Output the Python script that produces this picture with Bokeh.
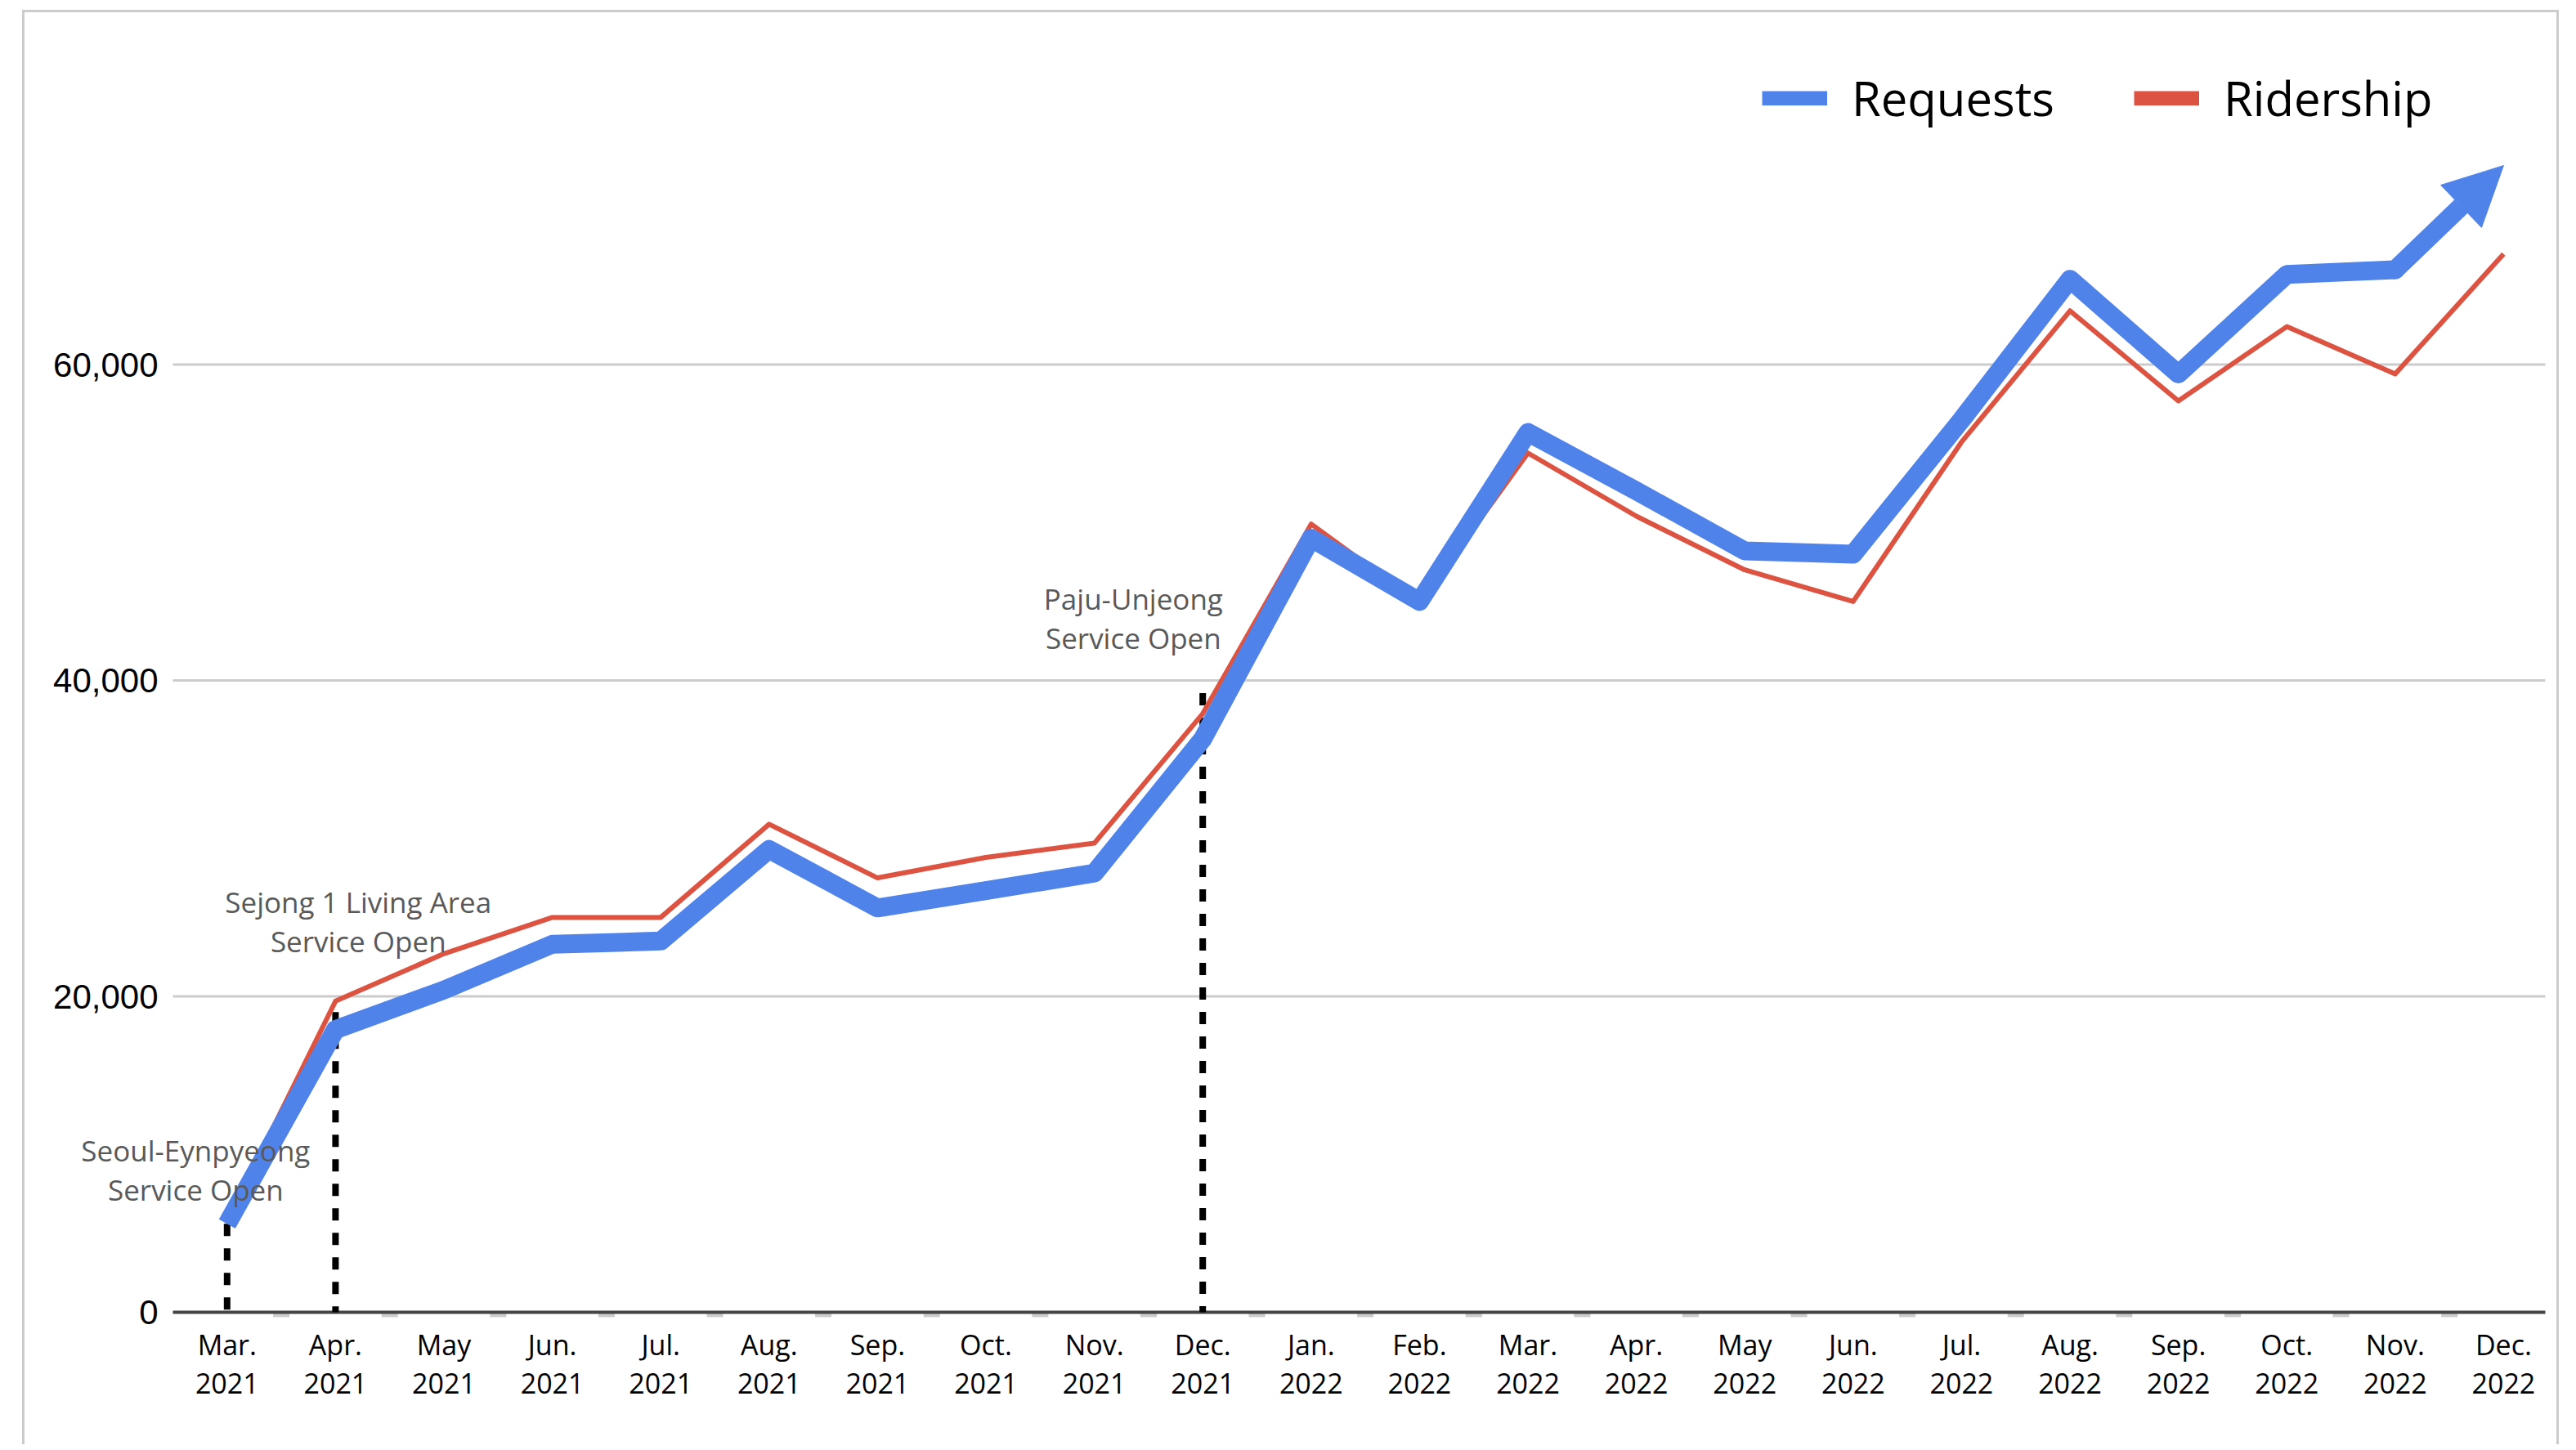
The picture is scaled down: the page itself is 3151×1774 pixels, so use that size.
from bokeh.plotting import figure
from bokeh.models import (Range1d, Legend, LegendItem, Arrow, NormalHead, Label)
from bokeh.core.properties import value
from bokeh.embed import file_html
from bokeh.resources import INLINE

# Monthly axis categories (two-line tick labels)
months = ["Mar.", "Apr.", "May", "Jun.", "Jul.", "Aug.", "Sep.", "Oct.", "Nov.", "Dec.",
          "Jan.", "Feb.", "Mar.", "Apr.", "May", "Jun.", "Jul.", "Aug.", "Sep.", "Oct.",
          "Nov.", "Dec."]
years = ["2021", "2021", "2021", "2021", "2021", "2021", "2021", "2021", "2021", "2021",
         "2022", "2022", "2022", "2022", "2022", "2022", "2022", "2022", "2022", "2022",
         "2022", "2022"]

# Series values
requests = [5600, 17900, 20400, 23300, 23500, 29300, 25600, 26700, 27800, 36300,
            49000, 45000, 55700, 52000, 48200, 48000, 56500, 65400, 59400, 65700,
            66000, 72600]
ridership = [5800, 19700, 22700, 25000, 25000, 30900, 27500, 28800, 29700, 37900,
             49900, 44900, 54400, 50400, 47000, 45000, 55100, 63400, 57700, 62400,
             59400, 67000]

y_ticks = [0, 20000, 40000, 60000]

# Service launch events
event_labels = ["Seoul-Eynpyeong\nService Open",
                "Sejong 1 Living Area\nService Open",
                "Paju-Unjeong\nService Open"]
event_month_index = [0, 1, 9]
event_line_top = [5600, 19000, 39200]
event_label_x = [-0.29, 1.21, 8.36]
event_label_y = [9000, 24730, 43950]

BLUE = "#5083EA"
RED = "#DC5441"
GRID = "#cccccc"

W, H = 3103, 1755
X_START, X_END = -1.865, 21.536
Y_START, Y_END = -8538, 82277
y_per_px = (Y_END - Y_START) / H

x = list(range(len(months)))
axis_lo = x[0] - 0.5          # left end of the value axis / gridlines
axis_hi = x[-1] + 0.385       # right end of the value axis / gridlines

# The frame covers the whole canvas so that labels may sit left of the axis;
# axes, grid and tick labels are drawn as glyphs.
p = figure(width=W, height=H,
           x_range=Range1d(X_START, X_END), y_range=Range1d(Y_START, Y_END),
           output_backend="svg", toolbar_location=None,
           min_border=0, outline_line_color=None,
           background_fill_color="white", border_fill_color="white")
p.styles = {"margin-left": "27px", "margin-top": "12px",
            "border-left": "3px solid #cccccc",
            "border-top": "3px solid #cccccc",
            "border-right": "3px solid #cccccc"}
p.xaxis.visible = False
p.yaxis.visible = False
p.grid.visible = False

# Horizontal gridlines
grid_y = [v for v in y_ticks if v != 0]
p.segment(x0=[axis_lo] * len(grid_y), y0=grid_y, x1=[axis_hi] * len(grid_y), y1=grid_y,
          line_color=GRID, line_width=3)

# Value labels on the left
p.text(x=[axis_lo] * len(y_ticks), y=y_ticks, text=[f"{v:,}" for v in y_ticks],
       x_offset=-18, text_align="right", text_baseline="middle",
       text_font=value("Liberation Sans"), text_font_size="42px", text_color="black")

# Small gray marks between months, just under the baseline
bounds = [i + 0.5 for i in x[:-1]]
p.segment(x0=bounds, y0=[0] * len(bounds), x1=bounds, y1=[-6 * y_per_px] * len(bounds),
          line_color=GRID, line_width=20)

# Baseline
p.segment(x0=[axis_lo], y0=[0], x1=[axis_hi], y1=[0], line_color="#454545", line_width=4)

# Month / year labels
p.text(x=x, y=[0] * len(x), text=months, y_offset=39,
       text_align="center", text_baseline="middle",
       text_font=value("Open Sans"), text_font_size="34px", text_color="black")
p.text(x=x, y=[0] * len(x), text=years, y_offset=87,
       text_align="center", text_baseline="middle",
       text_font=value("Open Sans"), text_font_size="34px", text_color="black")

# Dashed markers for service launches
p.segment(x0=[x[i] for i in event_month_index], y0=event_line_top,
          x1=[x[i] for i in event_month_index], y1=[0] * len(event_month_index),
          line_color="black", line_width=8, line_dash="15 15")

# Ridership line
p.line(x, ridership, line_color=RED, line_width=6, line_join="round")

# Requests line, with its last step drawn as an arrow
p.line(x[:-1], requests[:-1], line_color=BLUE, line_width=23, line_join="round")
p.scatter([x[-2]], [requests[-2]], size=23, marker="circle",
          fill_color=BLUE, line_color=None)
p.add_layout(Arrow(end=NormalHead(size=72, fill_color=BLUE, line_color=BLUE),
                   x_start=x[-2], y_start=requests[-2],
                   x_end=x[-1], y_end=requests[-1],
                   line_color=BLUE, line_width=23))

# Event labels: each line centred on its own, two lines 48px apart
for lx, ly, label in zip(event_label_x, event_label_y, event_labels):
    lines = label.split("\n")
    for k, line in enumerate(lines):
        p.add_layout(Label(x=lx, y=ly, text=line,
                           y_offset=24 * (len(lines) - 1) - 48 * k,
                           text_font="Open Sans", text_font_size="35px",
                           text_color="#595959", text_align="center",
                           text_baseline="middle"))

# Legend swatches (no data of their own, only drawn in the legend)
nan = float("nan")
leg_req = p.line([nan], [nan], line_color=BLUE, line_width=18)
leg_rid = p.line([nan], [nan], line_color=RED, line_width=18)
legend = Legend(items=[LegendItem(label="Requests", renderers=[leg_req]),
                       LegendItem(label="Ridership", renderers=[leg_rid])],
                orientation="horizontal", location=(2125, 1611),
                glyph_width=80, glyph_height=18, label_standoff=30, spacing=97,
                padding=0, margin=0, border_line_color=None,
                background_fill_alpha=0,
                label_text_font="Open Sans", label_text_font_size="58px",
                label_text_color="black")
p.add_layout(legend, "center")

open("out.html", "w").write(file_html(p, INLINE))
